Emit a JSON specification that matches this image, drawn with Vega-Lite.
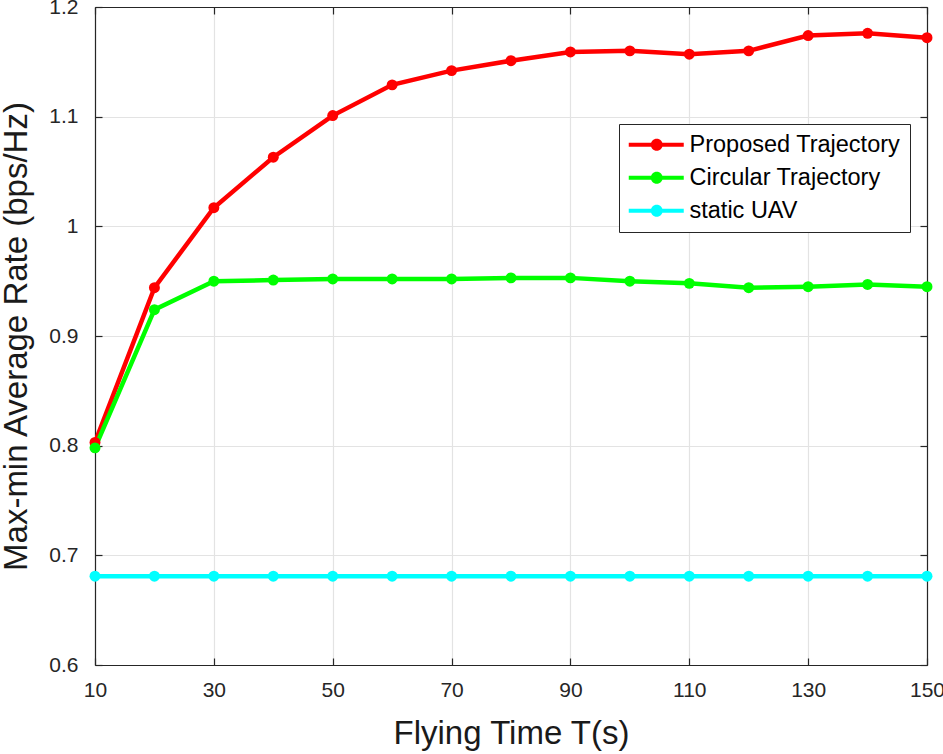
{
  "$schema": "https://vega.github.io/schema/vega-lite/v6.json",
  "width": 832,
  "height": 658,
  "autosize": {"type": "none"},
  "padding": {"left": 95, "top": 7, "right": 16, "bottom": 89},
  "background": "white",
  "config": {
    "view": {"stroke": null},
    "font": "Liberation Sans",
    "axis": {"labelFont": "Liberation Sans", "titleFont": "Liberation Sans", "labelColor": "#262626", "titleColor": "#1a1a1a", "domainColor": "#262626", "tickColor": "#262626", "gridColor": "#e3e3e3", "gridWidth": 1.2, "domainWidth": 1.2, "tickWidth": 1.2}
  },
  "data": {"values": [
    {"t": 10, "series": "Proposed Trajectory", "rate": 0.803},
    {"t": 20, "series": "Proposed Trajectory", "rate": 0.944},
    {"t": 30, "series": "Proposed Trajectory", "rate": 1.017},
    {"t": 40, "series": "Proposed Trajectory", "rate": 1.063},
    {"t": 50, "series": "Proposed Trajectory", "rate": 1.101},
    {"t": 60, "series": "Proposed Trajectory", "rate": 1.129},
    {"t": 70, "series": "Proposed Trajectory", "rate": 1.142},
    {"t": 80, "series": "Proposed Trajectory", "rate": 1.151},
    {"t": 90, "series": "Proposed Trajectory", "rate": 1.159},
    {"t": 100, "series": "Proposed Trajectory", "rate": 1.160},
    {"t": 110, "series": "Proposed Trajectory", "rate": 1.157},
    {"t": 120, "series": "Proposed Trajectory", "rate": 1.160},
    {"t": 130, "series": "Proposed Trajectory", "rate": 1.174},
    {"t": 140, "series": "Proposed Trajectory", "rate": 1.176},
    {"t": 150, "series": "Proposed Trajectory", "rate": 1.172},
    {"t": 10, "series": "Circular Trajectory", "rate": 0.798},
    {"t": 20, "series": "Circular Trajectory", "rate": 0.924},
    {"t": 30, "series": "Circular Trajectory", "rate": 0.950},
    {"t": 40, "series": "Circular Trajectory", "rate": 0.951},
    {"t": 50, "series": "Circular Trajectory", "rate": 0.952},
    {"t": 60, "series": "Circular Trajectory", "rate": 0.952},
    {"t": 70, "series": "Circular Trajectory", "rate": 0.952},
    {"t": 80, "series": "Circular Trajectory", "rate": 0.953},
    {"t": 90, "series": "Circular Trajectory", "rate": 0.953},
    {"t": 100, "series": "Circular Trajectory", "rate": 0.950},
    {"t": 110, "series": "Circular Trajectory", "rate": 0.948},
    {"t": 120, "series": "Circular Trajectory", "rate": 0.944},
    {"t": 130, "series": "Circular Trajectory", "rate": 0.945},
    {"t": 140, "series": "Circular Trajectory", "rate": 0.947},
    {"t": 150, "series": "Circular Trajectory", "rate": 0.945},
    {"t": 10, "series": "static UAV", "rate": 0.681},
    {"t": 20, "series": "static UAV", "rate": 0.681},
    {"t": 30, "series": "static UAV", "rate": 0.681},
    {"t": 40, "series": "static UAV", "rate": 0.681},
    {"t": 50, "series": "static UAV", "rate": 0.681},
    {"t": 60, "series": "static UAV", "rate": 0.681},
    {"t": 70, "series": "static UAV", "rate": 0.681},
    {"t": 80, "series": "static UAV", "rate": 0.681},
    {"t": 90, "series": "static UAV", "rate": 0.681},
    {"t": 100, "series": "static UAV", "rate": 0.681},
    {"t": 110, "series": "static UAV", "rate": 0.681},
    {"t": 120, "series": "static UAV", "rate": 0.681},
    {"t": 130, "series": "static UAV", "rate": 0.681},
    {"t": 140, "series": "static UAV", "rate": 0.681},
    {"t": 150, "series": "static UAV", "rate": 0.681}
  ]},
  "layer": [
    {
      "mark": {"type": "line", "strokeWidth": 4.5, "clip": true},
      "encoding": {
        "x": {"field": "t", "type": "quantitative", "scale": {"domain": [10, 150], "nice": false, "zero": false},
          "axis": {"orient": "bottom", "values": [10, 30, 50, 70, 90, 110, 130, 150], "grid": true, "tickSize": -7, "labelPadding": 21, "labelFontSize": 21, "labelFlush": false, "title": "Flying Time T(s)", "titleFontSize": 33, "titleFontWeight": "normal", "titlePadding": 17}},
        "y": {"field": "rate", "type": "quantitative", "scale": {"domain": [0.6, 1.2], "nice": false, "zero": false},
          "axis": {"orient": "left", "values": [0.6, 0.7, 0.8, 0.9, 1, 1.1, 1.2], "grid": true, "tickSize": -7, "labelPadding": 24, "labelFontSize": 21, "labelFlush": false, "labelExpr": "datum.value == 1 ? '1' : format(datum.value, '.1f')", "title": "Max-min Average Rate (bps/Hz)", "titleFontSize": 33, "titleFontWeight": "normal", "titlePadding": 15}},
        "color": {"field": "series", "type": "nominal", "scale": {"domain": ["Proposed Trajectory", "Circular Trajectory", "static UAV"], "range": ["#ff0000", "#00ff00", "#00ffff"]},
          "legend": {"title": null, "orient": "none", "legendX": 524, "legendY": 117, "padding": 9, "strokeColor": "#262626", "fillColor": "white", "symbolType": "M-2.2,-0.4H8.8V0.4H-2.2Z M4.6,0A1.2,1.2,0,1,1,2.2,0A1.2,1.2,0,1,1,4.6,0Z", "symbolSize": 100, "symbolStrokeWidth": 0, "symbolOpacity": 1, "labelOffset": 38, "labelFontSize": 23.5, "labelFont": "Liberation Sans", "labelColor": "#000000", "rowPadding": 8, "labelLimit": 400,
            "encode": {"symbols": {"update": {"fill": {"scale": "color", "field": "value"}, "strokeWidth": {"value": 0}, "opacity": {"value": 1}}}}}}
      }
    },
    {
      "mark": {"type": "point", "filled": true, "size": 120, "opacity": 1, "strokeWidth": 0},
      "encoding": {
        "x": {"field": "t", "type": "quantitative", "scale": {"domain": [10, 150], "nice": false, "zero": false},
          "axis": {"orient": "top", "values": [10, 30, 50, 70, 90, 110, 130, 150], "grid": false, "labels": false, "tickSize": -7, "title": null}},
        "y": {"field": "rate", "type": "quantitative", "scale": {"domain": [0.6, 1.2], "nice": false, "zero": false},
          "axis": {"orient": "right", "values": [0.6, 0.7, 0.8, 0.9, 1, 1.1, 1.2], "grid": false, "labels": false, "tickSize": -7, "title": null}},
        "color": {"field": "series", "type": "nominal", "scale": {"domain": ["Proposed Trajectory", "Circular Trajectory", "static UAV"], "range": ["#ff0000", "#00ff00", "#00ffff"]}}
      }
    }
  ],
  "resolve": {"axis": {"x": "independent", "y": "independent"}}
}
